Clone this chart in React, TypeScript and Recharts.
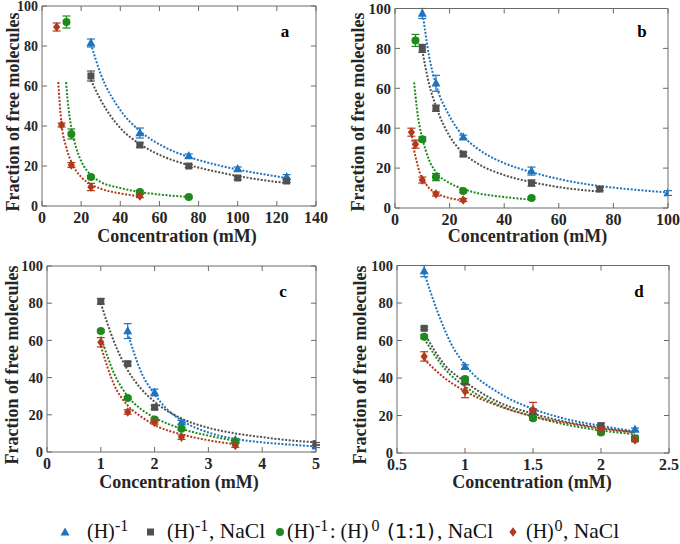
import React from 'react';
import { ComposedChart, XAxis, YAxis, Scatter, Line, ErrorBar, Legend } from 'recharts';

const SERIF = "'Times New Roman', 'Liberation Serif', Times, serif";
const SANS = "'DejaVu Sans', Verdana, sans-serif";
const AXIS = '#6a6a6a';
const INK = '#262626';
const BLUE = '#1F74C0';
const GRAY = '#505050';
const GREEN = '#1D8A1D';
const RED = '#B23A1C';

const Y_TICKS = [0, 20, 40, 60, 80, 100];
const A_X_TICKS = [0, 20, 40, 60, 80, 100, 120, 140];
const B_X_TICKS = [0, 20, 40, 60, 80, 100];
const C_X_TICKS = [0, 1, 2, 3, 4, 5];
const D_X_TICKS = [0.5, 1, 1.5, 2, 2.5];

// measured points: [concentration, fraction, error]
const aBlue = [[25, 81.5, 2], [50, 36.5, 2.5], [75, 25, 1], [100, 18.5, 1], [125, 14.5, 1.2]];
const aGray = [[25, 65, 2.5], [50, 30.5, 1.2], [75, 20, 0.8], [100, 14, 0.8], [125, 12.5, 0.8]];
const aGreen = [[12.5, 92, 3], [15, 36, 2.5], [25, 14.5, 0.8], [50, 7, 0.8], [75, 4.5, 0.6]];
const aRed = [[7.5, 89.5, 2], [10, 40.5, 1], [15, 20.5, 1.2], [25, 9.5, 1.8], [50, 5, 0.8]];

const bBlue = [[10, 97.5, 2.5], [15, 62.5, 4], [25, 35.5, 1], [50, 18.5, 2], [100, 7.5, 1.2]];
const bGray = [[10, 80, 2], [15, 50, 1.5], [25, 27, 1], [50, 12.5, 1.5], [75, 9.5, 0.8]];
const bGreen = [[7.5, 84, 3], [10, 34.5, 1.2], [15, 15.5, 1.8], [25, 8.5, 0.8], [50, 5, 0.6]];
const bRed = [[6, 38, 2], [7.5, 32, 2], [10, 14, 1.5], [15, 7, 1], [25, 4, 0.8]];

const cBlue = [[1.5, 65, 4], [2, 32, 1.8], [2.5, 16, 1], [3.5, 6.5, 0.8], [5, 3, 0.6]];
const cGray = [[1, 81, 1.5], [1.5, 47.5, 1], [2, 24, 1], [5, 4.5, 0.6]];
const cGreen = [[1, 65, 0.8], [1.5, 29, 0.8], [2, 17.5, 0.8], [2.5, 12.5, 0.8], [3.5, 5.5, 0.8]];
const cRed = [[1, 59, 2.5], [1.5, 21.5, 1.2], [2, 16, 1], [2.5, 8, 1.2], [3.5, 3.5, 1]];

const dBlue = [[0.7, 97, 3], [1, 46, 1], [1.5, 22, 1], [2, 13, 1], [2.25, 12.5, 0.8]];
const dGray = [[0.7, 66.5, 0.8], [1, 38, 1], [1.5, 22, 1.5], [2, 14.5, 1.5], [2.25, 8, 0.8]];
const dGreen = [[0.7, 62, 1], [1, 39.5, 1], [1.5, 18.5, 1], [2, 11, 1], [2.25, 7.5, 0.8]];
const dRed = [[0.7, 51.5, 2.5], [1, 33, 3.5], [1.5, 23, 4], [2, 12.5, 1.5], [2.25, 7, 1]];

// fitted curves: [concentration, fraction]
const aBlueFit = [[25, 81], [30, 66], [40, 48], [50, 37.5], [62.5, 29.5], [75, 24.5], [87.5, 21], [100, 18.2], [112.5, 16], [125, 14]];
const aGrayFit = [[25, 63], [30, 53], [40, 39], [50, 31], [62.5, 24.5], [75, 20.5], [87.5, 17.5], [100, 15], [112.5, 13], [125, 11.5]];
const aGreenFit = [[12.3, 62], [13, 54], [15, 39], [17.5, 29], [20, 22.5], [25, 15.5], [30, 12], [40, 9], [50, 7], [62.5, 5.5], [75, 4.5]];
const aRedFit = [[8.3, 62], [9, 52], [10, 41], [12.5, 29], [15, 22], [20, 14.5], [25, 10.8], [30, 8.6], [40, 6.3], [50, 4.8]];

const bBlueFit = [[10, 99], [12.5, 76], [15, 62], [20, 46], [25, 36], [30, 30], [40, 22.5], [50, 18], [62.5, 13.8], [75, 11], [87.5, 9.2], [100, 7.8]];
const bGrayFit = [[10, 79], [12.5, 62], [15, 51], [20, 36], [25, 27.5], [30, 22.5], [40, 16.5], [50, 13], [62.5, 10], [75, 8.2]];
const bGreenFit = [[7, 63], [8, 50], [9, 41], [10, 35], [12.5, 24], [15, 18], [20, 12.5], [25, 9.5], [30, 7.5], [40, 5.5], [50, 4.2]];
const bRedFit = [[6.2, 36], [7, 29], [8, 23], [9, 18], [10, 15], [12.5, 10], [15, 7.5], [20, 5], [25, 3.8]];

const cBlueFit = [[1.5, 64], [1.75, 43], [2, 31], [2.25, 22.5], [2.5, 17], [3, 10.5], [3.5, 7], [4, 5.2], [4.5, 4], [5, 3]];
const cGrayFit = [[1, 80], [1.25, 59], [1.5, 44], [1.75, 34], [2, 27], [2.5, 18], [3, 13], [3.5, 10], [4, 8], [4.5, 6.3], [5, 5.2]];
const cGreenFit = [[1, 62], [1.25, 42], [1.5, 30], [1.75, 23], [2, 18.5], [2.5, 12.5], [3, 8.8], [3.5, 6]];
const cRedFit = [[1, 57], [1.25, 36], [1.5, 25], [1.75, 19], [2, 14.5], [2.5, 9.5], [3, 6.3], [3.5, 4.2]];

const dBlueFit = [[0.7, 96], [0.8, 75], [0.9, 58], [1, 47], [1.25, 32], [1.5, 23.5], [1.75, 18], [2, 14.5], [2.25, 11.5]];
const dGrayFit = [[0.7, 64], [0.85, 47], [1, 38], [1.25, 27], [1.5, 21], [1.75, 16.5], [2, 13.5], [2.25, 11]];
const dGreenFit = [[0.7, 61], [0.85, 45], [1, 35.5], [1.25, 25.5], [1.5, 19.5], [1.75, 15], [2, 12], [2.25, 10]];
const dRedFit = [[0.7, 50], [0.85, 40], [1, 33], [1.25, 25], [1.5, 19.5], [1.75, 16], [2, 13], [2.25, 11]];

const toPts = (a) => a.map(([x, y, e]) => ({ x, y, e }));
const toFit = (a) => a.map(([x, y]) => ({ x, y }));

const Tri = ({ cx, cy, fill }) => (
  <polygon points={`${cx},${cy - 5} ${cx - 4.5},${cy + 3.2} ${cx + 4.5},${cy + 3.2}`} fill={fill} />
);
const Sq = ({ cx, cy, fill }) => <rect x={cx - 3.5} y={cy - 3.5} width={7} height={7} fill={fill} />;
const Ci = ({ cx, cy, fill }) => <circle cx={cx} cy={cy} r={4} fill={fill} />;
const Di = ({ cx, cy, fill }) => (
  <polygon points={`${cx},${cy - 4.8} ${cx + 3.6},${cy} ${cx},${cy + 4.8} ${cx - 3.6},${cy}`} fill={fill} />
);

const SHAPES = { tri: Tri, sq: Sq, ci: Ci, di: Di };

const mkSeries = (blue, gray, green, red, blueFit, grayFit, greenFit, redFit) => [
  { key: 'blue', color: BLUE, shape: 'tri', pts: toPts(blue), fit: toFit(blueFit) },
  { key: 'gray', color: GRAY, shape: 'sq', pts: toPts(gray), fit: toFit(grayFit) },
  { key: 'green', color: GREEN, shape: 'ci', pts: toPts(green), fit: toFit(greenFit) },
  { key: 'red', color: RED, shape: 'di', pts: toPts(red), fit: toFit(redFit) },
];

const Empty = () => null;

function Panel(props) {
  const { pos, size, margin, yW, xH, xDomain, xTicks, series, letter, letterAt, yLab, xLab, yFont, xFont, children } = props;
  const tick = (fs) => ({ fill: INK, fontSize: fs, fontWeight: 700, fontFamily: SERIF });
  return (
    <div style={{ position: 'absolute', left: pos[0], top: pos[1] }}>
      <ComposedChart width={size[0]} height={size[1]} margin={margin}>
        <XAxis
          xAxisId="b" type="number" dataKey="x" orientation="bottom" domain={xDomain} ticks={xTicks}
          interval={0} allowDataOverflow height={xH} tickSize={-5} tickMargin={10.5} stroke={AXIS}
          tick={tick(xFont)}
          label={{
            content: () => (
              <text x={xLab[0]} y={xLab[1]} textAnchor="middle" fontFamily={SERIF} fontWeight={700} fontSize={18} fill={INK}>
                Concentration (mM)
              </text>
            ),
          }}
        />
        <XAxis
          xAxisId="t" type="number" dataKey="x" orientation="top" domain={xDomain} ticks={xTicks}
          interval={0} allowDataOverflow height={1} tickSize={-5} stroke={AXIS} tick={Empty}
          label={{
            content: () => (
              <text x={letterAt[0]} y={letterAt[1]} textAnchor="middle" fontFamily={SERIF} fontWeight={700} fontSize={17} fill="#000">
                {letter}
              </text>
            ),
          }}
        />
        <YAxis
          yAxisId="l" type="number" dataKey="y" domain={[0, 100]} ticks={Y_TICKS} interval={0}
          allowDataOverflow width={yW} tickSize={-5} tickMargin={9} stroke={AXIS} tick={tick(yFont)}
          label={{
            content: () => (
              <text
                x={yLab[0]} y={yLab[1]} transform={`rotate(-90 ${yLab[0]} ${yLab[1]})`} textAnchor="middle"
                dominantBaseline="central" fontFamily={SERIF} fontWeight={700} fontSize={18} fill={INK}
              >
                Fraction of free molecules
              </text>
            ),
          }}
        />
        <YAxis
          yAxisId="r" orientation="right" type="number" dataKey="y" domain={[0, 100]} ticks={Y_TICKS}
          interval={0} allowDataOverflow width={1} tickSize={-5} stroke={AXIS} tick={Empty}
        />
        {series.map((s) => (
          <Line
            key={`fit-${s.key}`} xAxisId="b" yAxisId="l" data={s.fit} dataKey="y" type="monotone"
            stroke={s.color} strokeWidth={2} strokeDasharray="2 1.6" dot={false} activeDot={false}
            isAnimationActive={false}
          />
        ))}
        {series.map((s) => {
          const Shape = SHAPES[s.shape];
          return (
            <Scatter
              key={`pts-${s.key}`} xAxisId="b" yAxisId="l" data={s.pts} dataKey="y" fill={s.color}
              shape={(p) => <Shape cx={p.cx} cy={p.cy} fill={s.color} />} isAnimationActive={false}
            >
              <ErrorBar dataKey="e" direction="y" width={4} stroke={s.color} strokeWidth={1.2} />
            </Scatter>
          );
        })}
        {children}
      </ComposedChart>
    </div>
  );
}

const BASE = 28;
const SUPB = 21;

const LegendContent = () => (
  <svg width={680} height={34} style={{ display: 'block' }}>
    <g fontFamily={SERIF} fontSize={20} fill="#111">
      <polygon points="65,17.5 60.5,25.5 69.5,25.5" fill={BLUE} />
      <text y={BASE}>
        <tspan x={87}>(H)</tspan>
        <tspan x={115} y={SUPB} fontSize={16}>-1</tspan>
      </text>

      <rect x={147} y={18.5} width={7} height={7} fill={GRAY} />
      <text y={BASE}>
        <tspan x={167}>(H)</tspan>
        <tspan x={195} y={SUPB} fontSize={16}>-1</tspan>
        <tspan x={209} y={BASE} fontSize={21.5}>, NaCl</tspan>
      </text>

      <circle cx={280} cy={22} r={4} fill={GREEN} />
      <text y={BASE}>
        <tspan x={287}>(H)</tspan>
        <tspan x={315} y={SUPB} fontSize={16}>-1</tspan>
        <tspan x={330} y={BASE}>: (H)</tspan>
        <tspan x={371.5} y={SUPB} fontSize={16}>0</tspan>
        <tspan x={387} y={BASE} fontFamily={SANS} fontSize={20}>(1:1)</tspan>
        <tspan x={437} fontSize={21.5}>, NaCl</tspan>
      </text>

      <polygon points="513,17.2 516.6,22 513,26.8 509.4,22" fill={RED} />
      <text y={BASE}>
        <tspan x={526}>(H)</tspan>
        <tspan x={554.5} y={SUPB} fontSize={16}>0</tspan>
        <tspan x={563} y={BASE} fontSize={21.5}>, NaCl</tspan>
      </text>
    </g>
  </svg>
);

const seriesA = mkSeries(aBlue, aGray, aGreen, aRed, aBlueFit, aGrayFit, aGreenFit, aRedFit);
const seriesB = mkSeries(bBlue, bGray, bGreen, bRed, bBlueFit, bGrayFit, bGreenFit, bRedFit);
const seriesC = mkSeries(cBlue, cGray, cGreen, cRed, cBlueFit, cGrayFit, cGreenFit, cRedFit);
const seriesD = mkSeries(dBlue, dGray, dGreen, dRed, dBlueFit, dGrayFit, dGreenFit, dRedFit);

export default function App() {
  return (
    <div style={{ position: 'absolute', left: 0, top: 0, width: 680, height: 544, background: '#fff' }}>
      <Panel
        pos={[0, 0]} size={[340, 255]} margin={{ top: 5, right: 23, bottom: 0, left: 0 }} yW={42} xH={49}
        xDomain={[0, 140]} xTicks={A_X_TICKS} series={seriesA} letter="a" letterAt={[285, 37]}
        yLab={[12.5, 112]} xLab={[177, 241.5]} yFont={14} xFont={16}
      />
      <Panel
        pos={[340, 0]} size={[340, 255]} margin={{ top: 7.5, right: 11, bottom: 0, left: 0 }} yW={55} xH={47}
        xDomain={[0, 100]} xTicks={B_X_TICKS} series={seriesB} letter="b" letterAt={[302, 37]}
        yLab={[17.5, 112]} xLab={[187.5, 241.5]} yFont={15} xFont={16}
      />
      <Panel
        pos={[0, 255]} size={[340, 289]} margin={{ top: 10, right: 23, bottom: 0, left: 0 }} yW={47} xH={92}
        xDomain={[0, 5]} xTicks={C_X_TICKS} series={seriesC} letter="c" letterAt={[283, 42]}
        yLab={[12, 110]} xLab={[179, 233]} yFont={14.5} xFont={16}
      >
        <Legend
          layout="horizontal" verticalAlign="middle" align="center" content={LegendContent}
          wrapperStyle={{ left: 0, top: 255, width: 680, height: 34 }}
        />
      </Panel>
      <Panel
        pos={[340, 255]} size={[340, 255]} margin={{ top: 9.5, right: 10, bottom: 0, left: 0 }} yW={57} xH={57}
        xDomain={[0.5, 2.5]} xTicks={D_X_TICKS} series={seriesD} letter="d" letterAt={[299, 42]}
        yLab={[19.5, 110]} xLab={[192, 233]} yFont={14.5} xFont={16}
      />
    </div>
  );
}
